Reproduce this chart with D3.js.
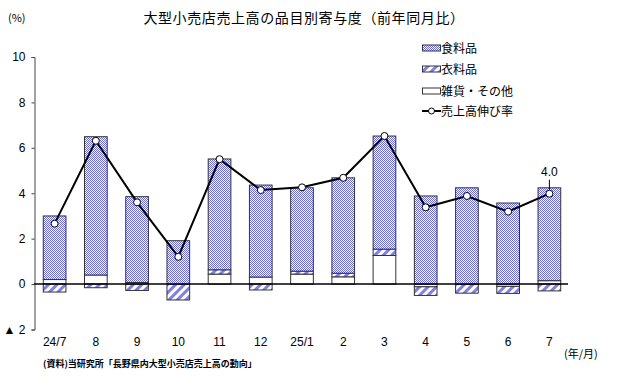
<!DOCTYPE html>
<html><head><meta charset="utf-8">
<script src="https://cdn.jsdelivr.net/npm/d3@7"></script>
<style>body{margin:0;background:#fff}svg{display:block}</style>
</head><body><svg id="c" width="620" height="384"></svg>
<script>
const categories = ["24/7","8","9","10","11","12","25/1","2","3","4","5","6","7"];
const food     = [2.80, 6.09, 3.78, 1.91, 4.88, 4.05, 3.67, 4.20, 4.98, 3.88, 4.24, 3.57, 4.09];
const clothing = [-0.35,-0.16,-0.28,-0.70, 0.19,-0.26, 0.13, 0.16, 0.28,-0.38,-0.38,-0.31,-0.30];
const misc     = [0.20, 0.40, 0.07, 0.00, 0.44, 0.31, 0.44, 0.32, 1.26,-0.12,-0.02,-0.10, 0.15];
const growth   = [2.66, 6.31, 3.60, 1.20, 5.50, 4.14, 4.26, 4.68, 6.52, 3.38, 3.88, 3.19, 3.98];
const yTicks = [-2,0,2,4,6,8,10];
const yTickLabels = ["▲ 2","0","2","4","6","8","10"];
const seriesNames = ["食料品","衣料品","雑貨・その他","売上高伸び率"];
const title = "大型小売店売上高の品目別寄与度（前年同月比）";

const svg = d3.select("#c");
const defs = svg.append("defs");
const pf = defs.append("pattern").attr("id","pFood").attr("width",2).attr("height",2).attr("patternUnits","userSpaceOnUse");
pf.append("rect").attr("width",2).attr("height",2).attr("fill","#fff");
pf.append("rect").attr("width",1).attr("height",1).attr("fill","#6a6ae0");
pf.append("rect").attr("x",1).attr("y",1).attr("width",1).attr("height",1).attr("fill","#6a6ae0");
const pc = defs.append("pattern").attr("id","pCloth").attr("width",6).attr("height",6).attr("patternUnits","userSpaceOnUse").attr("patternTransform","rotate(45)");
pc.append("rect").attr("width",6).attr("height",6).attr("fill","#fff");
pc.append("rect").attr("width",3).attr("height",6).attr("fill","#7f7fe6");

const x = d3.scaleBand().domain(categories).range([34,570]).paddingInner(0.45).paddingOuter(0.225);
const y = d3.scaleLinear().domain([-2,10]).range([329.5,57]);

const rows = categories.map((c,i)=>({cat:c, misc:misc[i], clothing:clothing[i], food:food[i]}));
const keys = ["misc","clothing","food"];
const fills = {misc:"#fff", clothing:"url(#pCloth)", food:"url(#pFood)"};
const stack = d3.stack().keys(keys).offset(d3.stackOffsetDiverging)(rows);

const g = svg.append("g");
stack.forEach(s=>{
  g.selectAll(null).data(s).enter().append("rect")
    .attr("x",d=>x(d.data.cat)).attr("width",x.bandwidth())
    .attr("y",d=>y(Math.max(d[0],d[1]))).attr("height",d=>Math.abs(y(d[0])-y(d[1])))
    .attr("fill",fills[s.key]).attr("stroke","#333").attr("stroke-width",1);
});

// y axis
const ax = svg.append("g").attr("transform","translate(34.5,0)")
  .call(d3.axisLeft(y).tickValues(yTicks).tickSize(3).tickFormat((d,i)=>yTickLabels[i]));
ax.select(".domain").attr("stroke","#444");
ax.selectAll(".tick line").attr("stroke","#444");
ax.selectAll("text").attr("font-family","'Liberation Sans Narrow','Liberation Sans',sans-serif").attr("font-size",12).attr("fill","#000").attr("x",-9);

// zero line
svg.append("line").attr("x1",34).attr("x2",568).attr("y1",y(0)).attr("y2",y(0)).attr("stroke","#000").attr("stroke-width",1.5);

// x axis labels
const xa = svg.append("g").attr("transform","translate(0,337)")
  .call(d3.axisBottom(x).tickSize(0).tickPadding(0));
xa.select(".domain").remove();
xa.selectAll("text").attr("font-family","'Liberation Sans Narrow','Liberation Sans',sans-serif").attr("font-size",12).attr("fill","#000");

// growth line
const cx = d=>x(d)+x.bandwidth()/2;
svg.append("path").datum(growth).attr("fill","none").attr("stroke","#000").attr("stroke-width",2)
  .attr("d",d3.line().x((d,i)=>cx(categories[i])).y(d=>y(d)));
svg.selectAll(".pt").data(growth).enter().append("circle")
  .attr("cx",(d,i)=>cx(categories[i])).attr("cy",d=>y(d)).attr("r",3.5)
  .attr("fill","#fff").attr("stroke","#000").attr("stroke-width",1);

// last value label
const li = growth.length-1;
svg.append("line").attr("x1",cx(categories[li])).attr("x2",cx(categories[li]))
  .attr("y1",y(growth[li])-4).attr("y2",y(growth[li])-14).attr("stroke","#000");
svg.append("text").attr("x",cx(categories[li])).attr("y",y(growth[li])-18).attr("text-anchor","middle")
  .attr("font-family","'Liberation Sans Narrow','Liberation Sans',sans-serif").attr("font-size",12)
  .text(growth[li].toFixed(1));

// title & units
svg.append("text").attr("x",304).attr("y",23).attr("text-anchor","middle")
  .attr("font-family","'Noto Sans CJK JP',sans-serif").attr("font-size",14).attr("letter-spacing",0.6).text(title);
svg.append("text").attr("x",8).attr("y",22).attr("font-family","'Noto Sans CJK JP',sans-serif").attr("font-size",11).text("(%)");
svg.append("text").attr("x",564).attr("y",358).attr("font-family","'Noto Sans CJK JP',sans-serif").attr("font-size",11).text("(年/月)");
svg.append("text").attr("x",43).attr("y",367).attr("font-family","'Noto Sans CJK JP',sans-serif").attr("font-size",9).attr("font-weight","bold").text("(資料)当研究所「長野県内大型小売店売上高の動向」");

// legend
const lg = svg.append("g").attr("font-family","'Noto Sans CJK JP',sans-serif").attr("font-size",12);
const ly = [48,69,91,111];
[["url(#pFood)"],["url(#pCloth)"],["#fff"]].forEach((f,i)=>{
  lg.append("rect").attr("x",422.5).attr("y",ly[i]-3).attr("width",18).attr("height",6).attr("fill",f[0]).attr("stroke","#333");
});
lg.append("line").attr("x1",422).attr("x2",441).attr("y1",ly[3]).attr("y2",ly[3]).attr("stroke","#000").attr("stroke-width",2);
lg.append("circle").attr("cx",431.5).attr("cy",ly[3]).attr("r",3).attr("fill","#fff").attr("stroke","#000");
seriesNames.forEach((n,i)=>{
  lg.append("text").attr("x",441).attr("y",ly[i]+4.5).text(n);
});
</script></body></html>
